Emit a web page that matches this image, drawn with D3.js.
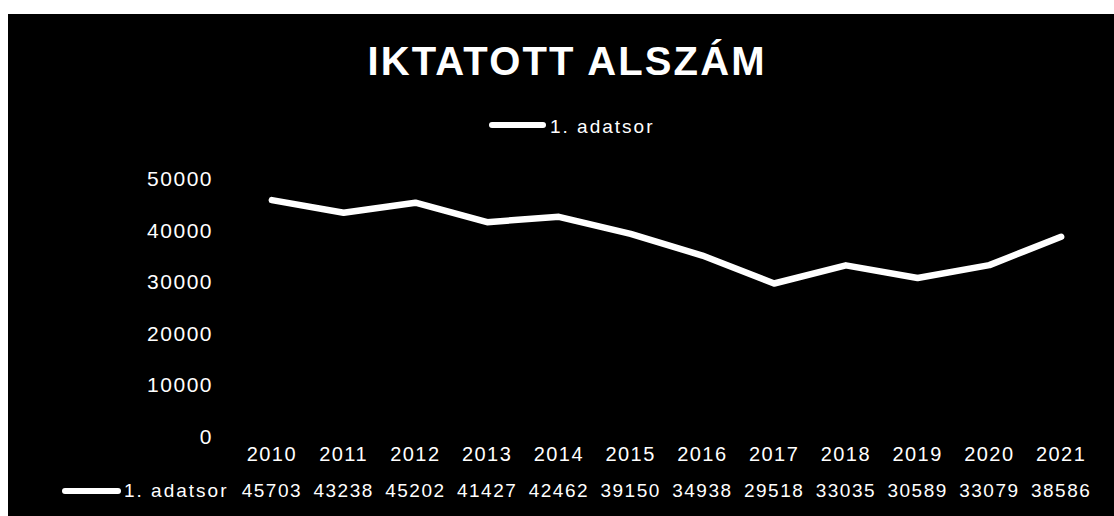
<!DOCTYPE html>
<html><head><meta charset="utf-8">
<script src="https://cdn.jsdelivr.net/npm/d3@7/dist/d3.min.js"></script>
<style>body{margin:0;background:#fff}svg{display:block}</style>
</head><body>
<script>
const title = "IKTATOTT ALSZÁM";
const seriesName = "1. adatsor";
const years = ["2010","2011","2012","2013","2014","2015","2016","2017","2018","2019","2020","2021"];
const values = [45703,43238,45202,41427,42462,39150,34938,29518,33035,30589,33079,38586];
const yTicks = [0,10000,20000,30000,40000,50000];

const W = 1114, H = 516;
const svg = d3.select("body").append("svg").attr("width", W).attr("height", H);
svg.append("rect").attr("x",0).attr("y",0).attr("width",W).attr("height",H).attr("fill","#fff");
svg.append("rect").attr("x",8).attr("y",14).attr("width",W-8).attr("height",H-14).attr("fill","#000");

const font = "'Liberation Sans', Arial, sans-serif";

svg.append("text").attr("x",566).attr("y",75).attr("text-anchor","middle")
  .attr("font-family",font).attr("font-weight","bold").attr("font-size",40)
  .attr("textLength",397).attr("lengthAdjust","spacing")
  .attr("fill","#fff").text(title);

// legend
svg.append("line").attr("x1",492).attr("x2",543).attr("y1",125).attr("y2",125)
  .attr("stroke","#fff").attr("stroke-width",6).attr("stroke-linecap","round");
svg.append("text").attr("x",550).attr("y",133).attr("font-family",font).attr("font-size",19)
  .attr("letter-spacing",2).attr("fill","#fff").text(seriesName);

const x = d3.scaleBand().domain(years).range([236,1097]);
const y = d3.scaleLinear().domain([0,50000]).range([435.5,178]);

// y axis labels
const yAxis = d3.axisLeft(y).tickValues(yTicks).tickSize(0).tickPadding(0).tickFormat(d3.format("d"));
const ya = svg.append("g").attr("transform","translate(213,0)").call(yAxis);
ya.select(".domain").remove();
ya.selectAll("text").attr("font-family",font).attr("font-size",21).attr("letter-spacing",1.5)
  .attr("fill","#fff").attr("dy","0.36em");

// x axis labels (years)
const xAxis = d3.axisBottom(x).tickSize(0).tickPadding(0);
const xa = svg.append("g").attr("transform","translate(0,447)").call(xAxis);
xa.select(".domain").remove();
xa.selectAll("text").attr("font-family",font).attr("font-size",20).attr("letter-spacing",1.5)
  .attr("fill","#fff").attr("dy","0.71em");

// line
const line = d3.line().x((d,i)=>x(years[i])+x.bandwidth()/2).y(d=>y(d));
svg.append("path").datum(values).attr("d",line).attr("fill","none")
  .attr("stroke","#fff").attr("stroke-width",6.5).attr("stroke-linejoin","round").attr("stroke-linecap","round");

// data table row
svg.append("line").attr("x1",65).attr("x2",118).attr("y1",491).attr("y2",491)
  .attr("stroke","#fff").attr("stroke-width",6).attr("stroke-linecap","round");
svg.append("text").attr("x",124).attr("y",497).attr("font-family",font).attr("font-size",19)
  .attr("letter-spacing",2).attr("fill","#fff").text(seriesName);
svg.append("g").selectAll("text").data(values).join("text")
  .attr("x",(d,i)=>x(years[i])+x.bandwidth()/2).attr("y",497)
  .attr("text-anchor","middle").attr("font-family",font).attr("font-size",19)
  .attr("letter-spacing",1.5).attr("fill","#fff").text(d=>d);
</script>
</body></html>
